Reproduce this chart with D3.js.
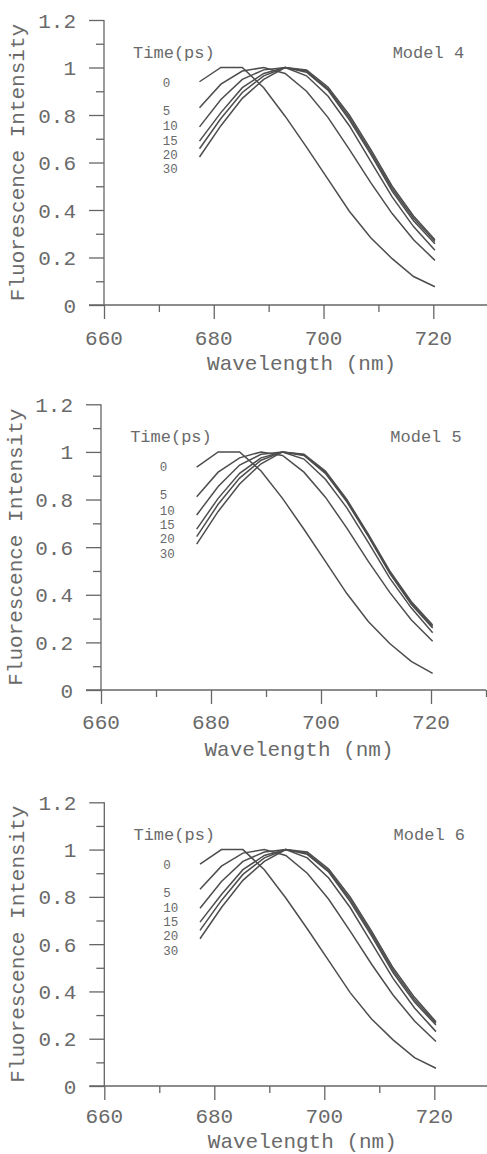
<!DOCTYPE html>
<html>
<head>
<meta charset="utf-8">
<script src="https://cdn.jsdelivr.net/npm/d3@7"></script>
<style>
  html, body { margin: 0; padding: 0; background: #fff; }
  svg { display: block; }
  text { font-family: "Liberation Mono", "Courier New", monospace; fill: #6a6a6a; }
</style>
</head>
<body>
<svg id="chart" width="487" height="1154"></svg>
<script>
// ---------------- DATA ----------------
const wavelengths = [677.4, 681.3, 685.2, 689.1, 693.0, 696.9, 700.8, 704.7, 708.6, 712.5, 716.4, 720.3];
const times = ["0", "5", "10", "15", "20", "30"];
const modelNames = ["Model 4", "Model 5", "Model 6"];

const model4 = [
  [0.940, 1.000, 1.000, 0.915, 0.795, 0.665, 0.530, 0.395, 0.283, 0.195, 0.120, 0.077],
  [0.831, 0.930, 0.985, 1.000, 0.975, 0.900, 0.790, 0.655, 0.515, 0.385, 0.275, 0.188],
  [0.750, 0.865, 0.950, 0.990, 1.000, 0.965, 0.880, 0.755, 0.605, 0.455, 0.330, 0.231],
  [0.690, 0.810, 0.915, 0.975, 1.000, 0.980, 0.905, 0.780, 0.635, 0.480, 0.355, 0.258],
  [0.658, 0.785, 0.895, 0.965, 1.000, 0.985, 0.910, 0.790, 0.645, 0.490, 0.365, 0.267],
  [0.623, 0.755, 0.870, 0.950, 1.000, 0.990, 0.918, 0.800, 0.655, 0.500, 0.375, 0.275]
];
const model5 = [
  [0.936, 1.000, 1.000, 0.920, 0.805, 0.675, 0.540, 0.405, 0.288, 0.195, 0.120, 0.070],
  [0.812, 0.915, 0.975, 1.000, 0.985, 0.915, 0.810, 0.680, 0.540, 0.410, 0.295, 0.205],
  [0.735, 0.855, 0.945, 0.990, 1.000, 0.970, 0.885, 0.765, 0.620, 0.470, 0.345, 0.240],
  [0.676, 0.805, 0.910, 0.975, 1.000, 0.985, 0.910, 0.790, 0.645, 0.490, 0.360, 0.260],
  [0.644, 0.780, 0.890, 0.965, 1.000, 0.988, 0.915, 0.795, 0.650, 0.495, 0.367, 0.267],
  [0.613, 0.750, 0.865, 0.950, 1.000, 0.990, 0.920, 0.800, 0.655, 0.500, 0.372, 0.273]
];
const model6 = [
  [0.938, 1.000, 1.000, 0.915, 0.795, 0.665, 0.530, 0.395, 0.283, 0.195, 0.120, 0.075],
  [0.832, 0.930, 0.985, 1.000, 0.975, 0.900, 0.790, 0.655, 0.515, 0.385, 0.275, 0.188],
  [0.752, 0.865, 0.950, 0.990, 1.000, 0.965, 0.880, 0.755, 0.605, 0.455, 0.330, 0.230],
  [0.693, 0.810, 0.915, 0.975, 1.000, 0.980, 0.905, 0.780, 0.635, 0.480, 0.355, 0.258],
  [0.658, 0.785, 0.895, 0.965, 1.000, 0.985, 0.910, 0.790, 0.645, 0.490, 0.365, 0.265],
  [0.623, 0.755, 0.870, 0.950, 1.000, 0.990, 0.918, 0.800, 0.655, 0.500, 0.375, 0.272]
];
const models = [model4, model5, model6];

const yMajorTicks = [0, 0.2, 0.4, 0.6, 0.8, 1, 1.2];
const yMinorTicks = [0.1, 0.3, 0.5, 0.7, 0.9, 1.1];
const xMajorTicks = [660, 680, 700, 720];
const xMinorTicks = [670, 690, 710, 730];

// ---------------- LAYOUT ----------------
const panels = [
  { x660: 104.0, x720: 433.3, y0: 305, y12: 20.0, xTitleY: 370, xLabY: 345, yTitleX: 24 },
  { x660: 101.0, x720: 431.0, y0: 690, y12: 404.3, xTitleY: 755.5, xLabY: 729, yTitleX: 22 },
  { x660: 104.3, x720: 434.3, y0: 1086, y12: 802.3, xTitleY: 1147.5, xLabY: 1123, yTitleX: 24 }
];
const legendY = [0.938, 0.820, 0.754, 0.694, 0.635, 0.575];

const svg = d3.select("#chart");
const axisColor = "#666";
const lineColor = "#4d4d4d";

panels.forEach((p, i) => {
  const x = d3.scaleLinear().domain([660, 720]).range([p.x660, p.x720]);
  const y = d3.scaleLinear().domain([0, 1.2]).range([p.y0, p.y12]);
  const g = svg.append("g");

  // Y axis (ticks to the left)
  const yMaj = d3.axisLeft(y).tickValues(yMajorTicks).tickSize(15).tickFormat("");
  const yMin = d3.axisLeft(y).tickValues(yMinorTicks).tickSize(8).tickFormat("");
  const ya = g.append("g").attr("transform", `translate(${x(660)},0)`).call(yMaj);
  g.append("g").attr("transform", `translate(${x(660)},0)`).call(yMin).select(".domain").remove();
  ya.select(".domain").attr("d", `M0,${y(1.2)}V${y(0)}`);

  // X axis (ticks downward)
  const xMaj = d3.axisBottom(x).tickValues(xMajorTicks).tickSize(14).tickFormat("");
  const xMin = d3.axisBottom(x).tickValues(xMinorTicks).tickSize(7).tickFormat("");
  const xa = g.append("g").attr("transform", `translate(0,${y(0)})`).call(xMaj);
  g.append("g").attr("transform", `translate(0,${y(0)})`).call(xMin).select(".domain").remove();
  xa.select(".domain").attr("d", `M${x(660) - 15},0H${x(730)}`);

  g.selectAll(".tick line, .domain").attr("stroke", axisColor).attr("stroke-width", 1.3);
  g.selectAll(".tick text").remove();

  // Tick labels
  g.selectAll(".ylab").data(yMajorTicks).enter().append("text")
    .attr("x", x(660) - 28).attr("y", d => y(d)).attr("dy", "0.36em")
    .attr("text-anchor", "end").attr("font-size", 21)
    .text(d => String(d));
  g.selectAll(".xlab").data(xMajorTicks).enter().append("text")
    .attr("x", d => x(d)).attr("y", p.xLabY)
    .attr("text-anchor", "middle").attr("font-size", 21)
    .text(d => String(d));

  // Axis titles
  g.append("text").attr("x", x(696)).attr("y", p.xTitleY)
    .attr("text-anchor", "middle").attr("font-size", 21)
    .text("Wavelength (nm)");
  g.append("text")
    .attr("transform", `translate(${p.yTitleX},${y(0.6)}) rotate(-90)`)
    .attr("text-anchor", "middle").attr("font-size", 21)
    .text("Fluorescence Intensity");

  // Curves
  const line = d3.line().x((d, k) => x(wavelengths[k])).y(d => y(d));
  g.selectAll(".curve").data(models[i]).enter().append("path")
    .attr("d", line).attr("fill", "none")
    .attr("stroke", lineColor).attr("stroke-width", 1.5)
    .attr("stroke-linejoin", "miter");

  // Annotations
  g.append("text").attr("x", x(665.3)).attr("y", y(1.04))
    .attr("font-size", 17).text("Time(ps)");
  g.append("text").attr("x", x(712.6)).attr("y", y(1.04))
    .attr("font-size", 17).text(modelNames[i]);
  g.selectAll(".leg").data(times).enter().append("text")
    .attr("x", x(670.7)).attr("y", (d, k) => y(legendY[k])).attr("dy", "0.36em")
    .attr("font-size", 12.5).text(d => d);
});
</script>
</body>
</html>
